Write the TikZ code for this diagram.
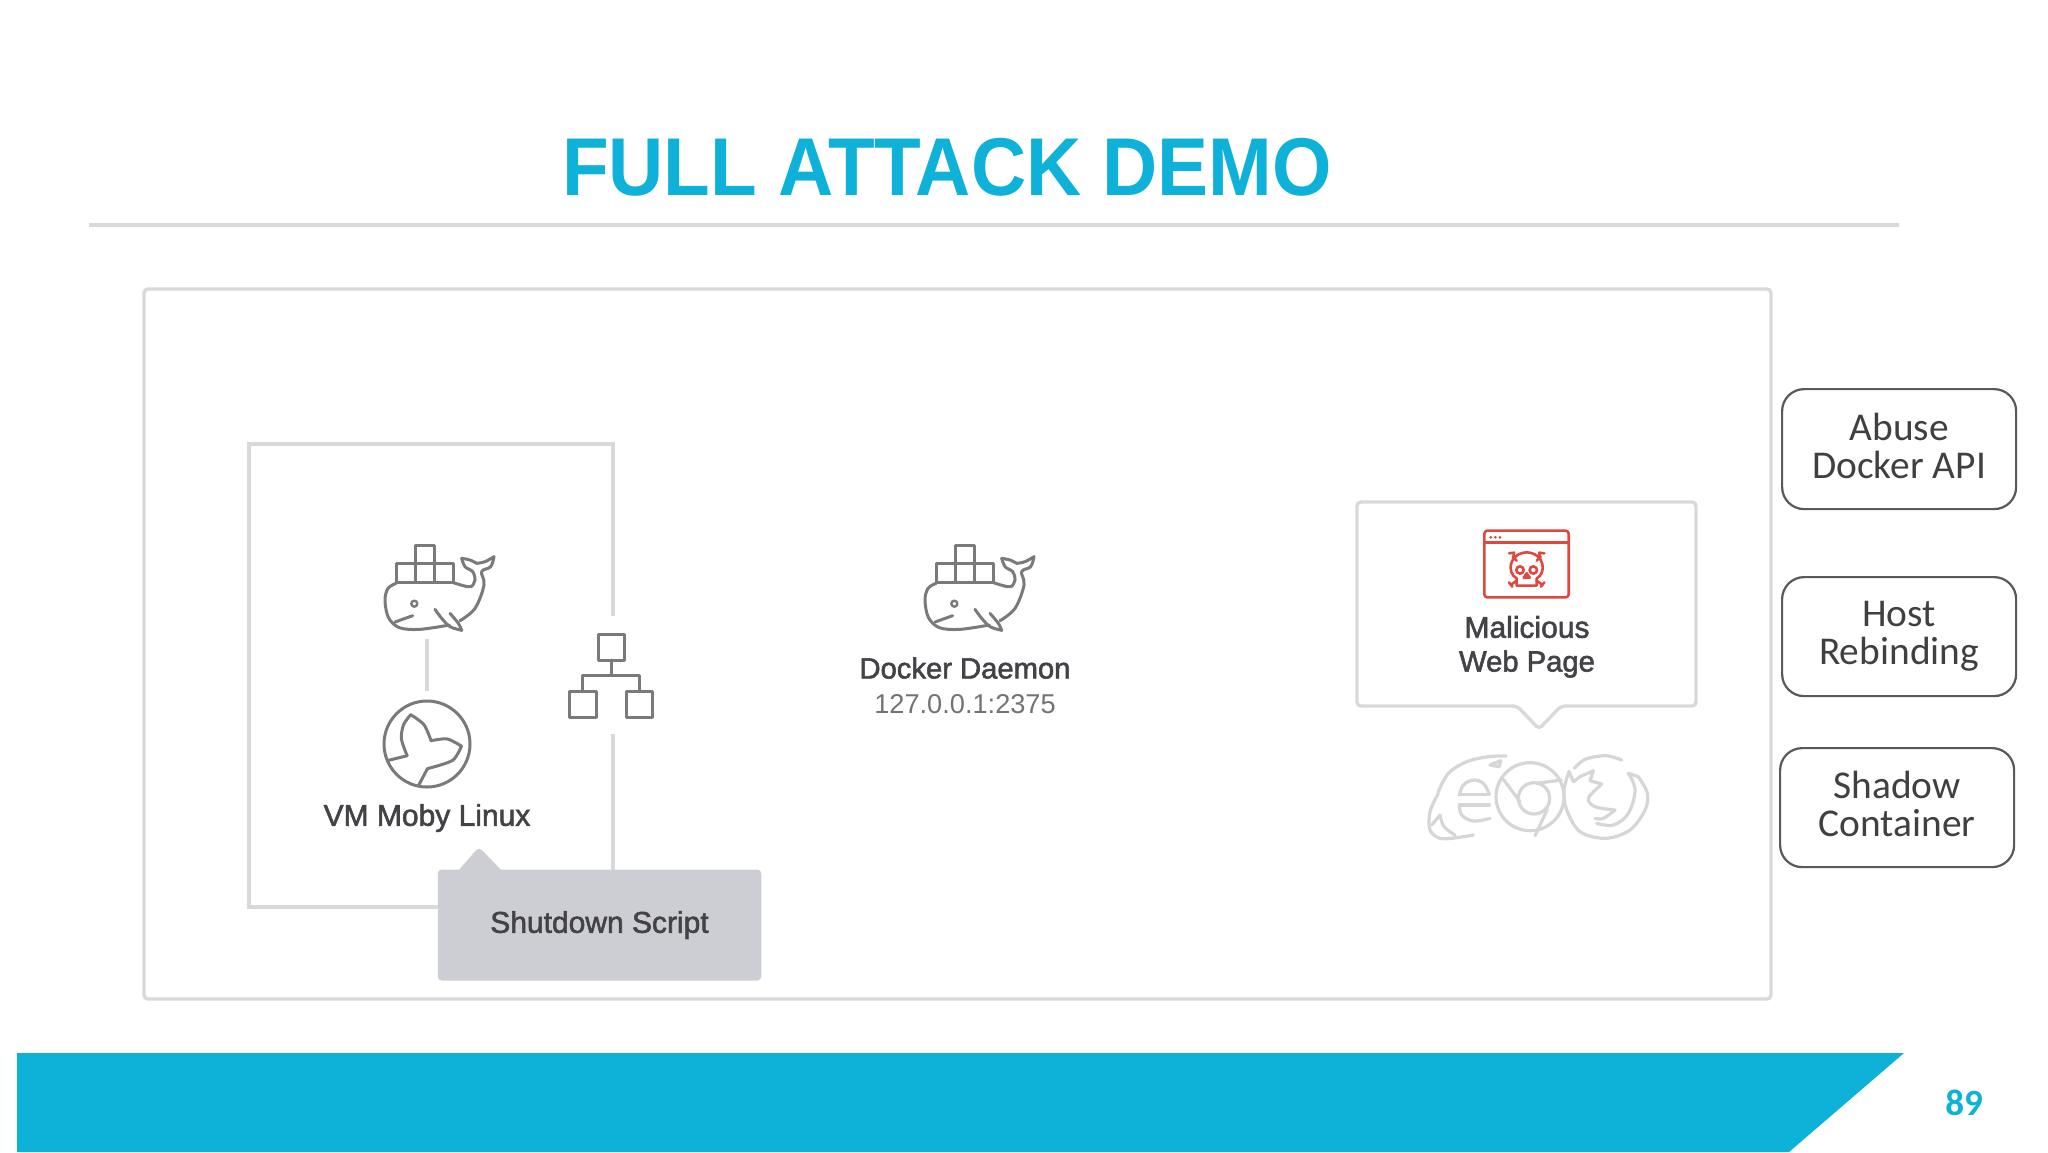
\documentclass[tikz,border=0pt]{standalone}
\usepackage{fontspec}
\setmainfont{Liberation Sans}
\newfontfamily\calfont{Carlito}
\newcommand{\medtxt}[1]{\special{pdf:code 2 Tr 0.28 w}#1\special{pdf:code 0 Tr}}
\definecolor{cyanbrand}{HTML}{0EB1D8}
\definecolor{framegray}{HTML}{D9D9DB}
\definecolor{icongray}{HTML}{7A7A7C}
\definecolor{browsergray}{HTML}{D6D6D9}
\definecolor{tipgray}{HTML}{CDCDD4}
\definecolor{textdark}{HTML}{434347}
\definecolor{redicon}{HTML}{E0483E}
\tikzset{
  framebox/.style={draw=framegray,line width=1.7pt,rounded corners=2pt},
  icon/.style={draw=icongray,line width=1.5pt,line join=round,line cap=round},
  brow/.style={draw=browsergray,line width=1.6pt,line join=round,line cap=round},
  redline/.style={draw=redicon,line width=1.3pt,line join=round,line cap=round},
  lab/.style={font=\fontsize{15}{18}\selectfont,text=textdark,align=center,inner sep=0pt},
  stepbox/.style={draw=black!65,line width=1.1pt,rounded corners=11pt,fill=white,
    font=\calfont\fontsize{19.7}{19}\selectfont,text=black!75,align=center,inner sep=0pt,anchor=north west},
  pics/whale/.style={code={
    \begin{scope}[x=0.16667pt,y=-0.16667pt]
      \draw[icon] (165,45) rectangle (223,100);
      \draw[icon] (108,100) rectangle (165,158);
      \draw[icon] (165,100) rectangle (223,158);
      \draw[icon] (223,100) rectangle (280,158);
      \draw[icon] plot[smooth,tension=0.55] coordinates {(108,160) (84,175) (75,210) (85,262) (118,293) (180,298) (268,285)};
      \draw[icon] plot[smooth,tension=0.55] coordinates {(280,158) (310,167) (333,170) (345,150) (338,125) (315,110) (305,85)};
      \draw[icon] plot[smooth,tension=0.6] coordinates {(305,85) (330,90) (350,100)};
      \draw[icon] plot[smooth,tension=0.6] coordinates {(350,100) (375,95) (402,80)};
      \draw[icon] plot[smooth,tension=0.6] coordinates {(402,80) (392,110) (365,125) (372,165) (345,235) (300,272)};
      \draw[icon] plot[smooth,tension=0.5] coordinates {(225,238) (245,265) (270,290) (305,301)};
      \draw[icon] plot[smooth,tension=0.5] coordinates {(305,301) (295,280) (270,250)};
      \draw[icon] (105,276) -- (158,257);
      \draw[icon,line width=1.2pt] (163,221) circle (9);
    \end{scope}
  }}
}
\begin{document}
\begin{tikzpicture}[x=0.5pt,y=-0.5pt]
\useasboundingbox (0,0) rectangle (2048,1152);
\fill[white] (0,0) rectangle (2048,1152);

% title
\node[font=\bfseries\fontsize{41}{41}\selectfont,text=cyanbrand,inner sep=0pt,xscale=0.932] (title) at (947,167) {FULL ATTACK DEMO};
\coordinate (ruleL) at (89,225);
\coordinate (ruleR) at (1899,225);
\draw[framegray,line width=2pt] (ruleL) -- (ruleR);

% main frame
\draw[framebox,fill=white] (144,289) rectangle (1771,999);

% footer band
\fill[cyanbrand] (17,1053) -- (1904,1053) -- (1789,1152) -- (17,1152) -- cycle;
\node[font=\calfont\bfseries\fontsize{18.5}{19}\selectfont,text=cyanbrand,inner sep=0pt] (page) at (1964,1103) {89};

% VM box: open on the right around the network icon
\coordinate (vmGapTop) at (613,616);
\coordinate (vmGapBot) at (613,734);
\draw[framegray,line width=1.6pt] (vmGapTop) -- (613,444) -- (249,444) -- (249,907) -- (470,907);
\draw[framegray,line width=1.6pt] (vmGapBot) -- (613,880);

% whale in VM
\pic at (360,530) {whale};
\coordinate (whaleFoot) at (427,639);
\coordinate (mobyTop) at (427,691);
\draw[framegray,line width=1.6pt] (whaleFoot) -- (mobyTop);

% moby
\coordinate (moby) at (427,744);
\draw[icon] (moby) circle (43);
\begin{scope}[shift={(240,430)},x=0.17857pt,y=-0.17857pt]
  \draw[icon] (415,925) -- (468,912);
  \draw[icon] plot[smooth,tension=0.5] coordinates {(468,912) (452,865) (458,825) (478,797)};
  \draw[icon] plot[smooth,tension=0.5] coordinates {(478,797) (515,825) (535,870)};
  \draw[icon] plot[smooth,tension=0.5] coordinates {(535,870) (580,865) (620,885)};
  \draw[icon] plot[smooth,tension=0.5] coordinates {(620,885) (595,925) (525,948)};
  \draw[icon] (525,948) -- (500,995);
\end{scope}

% network icon
\draw[icon] (598,634) rectangle (624,660);
\draw[icon] (569,691) rectangle (596,717);
\draw[icon] (626,691) rectangle (652,717);
\draw[icon] (611,660) -- (611,675);
\draw[icon] (582,691) -- (582,675) -- (639,675) -- (639,691);

% labels left
\node[lab] (vm) at (427,818) {\medtxt{VM Moby Linux}};

% shutdown tooltip
\fill[tipgray,rounded corners=2pt] (457,872) -- (479,847) -- (503,872) -- cycle;
\node[fill=tipgray,rounded corners=2pt,minimum width=323.5*0.5pt,minimum height=111*0.5pt,inner sep=0pt,
      font=\fontsize{15}{18}\selectfont,text=textdark] (shutdown) at (599.5,925) {\medtxt{Shutdown Script}};

% docker daemon
\pic at (900,530) {whale};
\node[lab,font=\fontsize{14.6}{18}\selectfont] (daemon) at (965,668) {\medtxt{Docker Daemon}};
\node[font=\fontsize{13.6}{18}\selectfont,text=black!55,inner sep=0pt] (addr) at (965,704) {127.0.0.1:2375};

% malicious callout
\draw[framebox,fill=white] (1357,502) -- (1696,502) -- (1696,706) -- (1561,706) -- (1539,729) -- (1517,706) -- (1357,706) -- cycle;

\begin{scope}[shift={(1340,490)},x=0.16667pt,y=-0.16667pt]
  % window
  \draw[redline,rounded corners=1.5pt] (433,122) rectangle (686,322);
  \draw[redline] (433,157) -- (686,157);
  \fill[redicon] (452,142) circle (4.5) (466,142) circle (4.5) (480,142) circle (4.5);
  % skull
  \draw[redline] (530,287) -- (530,265) .. controls (500,250) and (505,190) .. (560,187)
     .. controls (615,190) and (620,250) .. (590,265) -- (590,287) -- cycle;
  \draw[redline] (540,240) circle (11) (580,240) circle (11);
  \draw[redline] (560,250) -- (551,263) -- (569,263) -- cycle;
  \draw[redline] (518,200) -- (530,212) (602,200) -- (590,212);
  \draw[redline] (530,272) -- (516,282) (590,272) -- (604,282);
  \draw[redline] (507,190) -- (522,188) -- (520,205) (613,190) -- (598,188) -- (600,205);
  \draw[redline] (507,277) -- (517,290) (613,277) -- (603,290);
  % IE
  \draw[brow] plot[smooth,tension=0.55] coordinates {(295,905) (325,850) (380,815) (445,800) (498,798)};
  \draw[brow] plot[smooth,tension=0.55] coordinates {(295,910) (270,965) (270,1020) (300,1045) (350,1043) (400,1035)};
  \draw[brow] plot[smooth,tension=0.6] coordinates {(300,975) (312,1010) (345,1035)};
  \draw[brow] (300,975) -- (275,1005);
  \draw[brow] plot[smooth,tension=0.6] coordinates {(448,912) (430,880) (400,870) (370,885) (358,915)};
  \draw[brow] (358,913) -- (448,913);
  \draw[brow] (358,945) -- (448,945);
  \draw[brow] plot[smooth,tension=0.6] coordinates {(358,945) (365,975) (400,993) (450,985)};
  \draw[brow] (450,825) -- (482,812) -- (478,830) -- cycle;
  % Chrome
  \draw[brow] (570,920) circle (102);
  \draw[brow] (582,925) circle (47);
  \draw[brow] (490,868) -- (540,935);
  \draw[brow] (590,880) -- (664,870);
  \draw[brow] (622,958) -- (585,1037);
  % Firefox
  \draw[brow] plot[smooth,tension=0.55] coordinates {(703,835) (735,808) (797,797) (845,810)};
  \draw[brow] plot[smooth,tension=0.55] coordinates {(687,845) (672,900) (680,960) (720,1025) (797,1045) (870,1020) (915,960) (922,910) (895,860)};
  \draw[brow] (687,845) -- (700,875) -- (720,860) -- (760,842) -- (750,872) -- (785,882) -- (775,892);
  \draw[brow] plot[smooth,tension=0.6] coordinates {(775,892) (745,925) (765,950) (825,960)};
  \draw[brow] plot[smooth,tension=0.6] coordinates {(825,960) (790,985) (765,985)};
  \draw[brow] plot[smooth,tension=0.6] coordinates {(865,850) (885,900) (865,970) (820,1005) (770,1000)};
  \draw[brow] (865,850) -- (895,860);
\end{scope}

\node[lab,font=\fontsize{15}{18}\selectfont] (mal) at (1527,627) {\medtxt{Malicious}};
\node[lab,font=\fontsize{14.6}{18}\selectfont] (web) at (1527,664) {\medtxt{Web Page}};

% right side boxes
\node[stepbox,minimum width=234*0.5pt,minimum height=120*0.5pt] (abuse) at (1781,388) {Abuse\\Docker API\vphantom{g}};
\node[stepbox,minimum width=234*0.5pt,minimum height=119*0.5pt] (host) at (1781,576) {Host\\Rebinding};
\node[stepbox,minimum width=234*0.5pt,minimum height=119*0.5pt] (shadow) at (1779,747) {Shadow\\Container\vphantom{g}};
\end{tikzpicture}
\end{document}
